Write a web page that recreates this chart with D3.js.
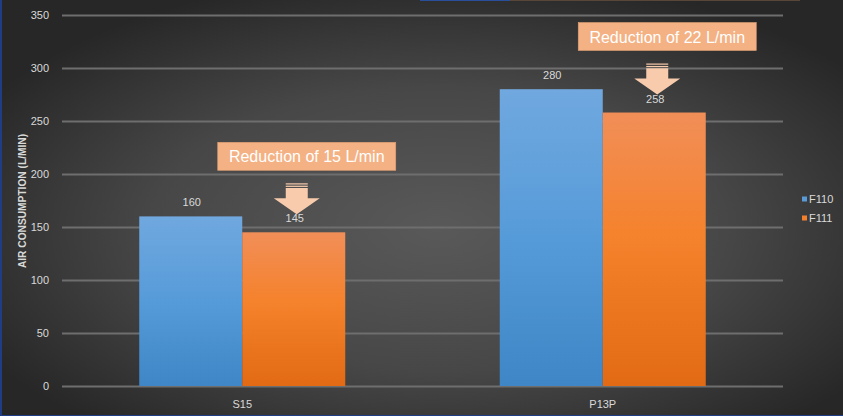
<!DOCTYPE html>
<html><head><meta charset="utf-8">
<script src="https://cdn.jsdelivr.net/npm/d3@7"></script>
<style>html,body{margin:0;padding:0;background:#2a2a2a;overflow:hidden}svg{display:block}</style>
</head><body>
<script>
const categories = ["S15", "P13P"];
const seriesNames = ["F110", "F111"];
const F110 = [160, 280];
const F111 = [145, 258];
const yTicks = [0, 50, 100, 150, 200, 250, 300, 350];
const annotations = ["Reduction of 15 L/min", "Reduction of 22 L/min"];
const yTitle = "AIR CONSUMPTION (L/MIN)";

const W = 843, H = 416;
const svg = d3.select("body").append("svg").attr("width", W).attr("height", H);
const defs = svg.append("defs");

const bg = defs.append("radialGradient").attr("id", "bg")
  .attr("cx", "0.52").attr("cy", "0.55").attr("r", "0.62");
bg.append("stop").attr("offset", "0").attr("stop-color", "#595959");
bg.append("stop").attr("offset", "0.55").attr("stop-color", "#474747");
bg.append("stop").attr("offset", "1").attr("stop-color", "#272727");

function grad(id, stops) {
  const g = defs.append("linearGradient").attr("id", id).attr("x1", 0).attr("y1", 0).attr("x2", 0).attr("y2", 1);
  stops.forEach(s => g.append("stop").attr("offset", s[0]).attr("stop-color", s[1]));
}
grad("gBlue", [[0, "#70a8df"], [0.5, "#569bd9"], [1, "#3e86c6"]]);
grad("gOrange", [[0, "#f18e58"], [0.45, "#f5822c"], [1, "#e26a14"]]);

svg.append("rect").attr("width", W).attr("height", H).attr("fill", "url(#bg)");
// thin frame edges
svg.append("rect").attr("x", 0).attr("y", 0).attr("width", 2).attr("height", H).attr("fill", "#1f3c86");
svg.append("rect").attr("x", 0).attr("y", H - 1).attr("width", W).attr("height", 1).attr("fill", "#1f3c86");
svg.append("rect").attr("x", 420).attr("y", 0).attr("width", 90).attr("height", 1).attr("fill", "#2a4f9a");
svg.append("rect").attr("x", 510).attr("y", 0).attr("width", 290).attr("height", 1).attr("fill", "#5a4636");

const x0 = 62, x1 = 783;
const x = d3.scaleBand().domain(categories).range([x0, x1]).paddingInner(0.4286).paddingOuter(0.2143);
const xs = d3.scaleBand().domain(seriesNames).range([0, x.bandwidth()]).padding(0);
const y = d3.scaleLinear().domain([0, 350]).range([386, 15]);

const font = "'Liberation Sans', Arial, sans-serif";

// gridlines
const yAxis = d3.axisLeft(y).tickValues(yTicks).tickSize(-(x1 - x0)).tickPadding(13);
const ga = svg.append("g").attr("transform", `translate(${x0},0)`).call(yAxis);
ga.select(".domain").remove();
ga.selectAll(".tick line").attr("stroke", "#6e6e6e").attr("stroke-width", 2);
ga.selectAll(".tick text").attr("fill", "#d9d9d9").style("font-family", font).style("font-size", "11px");

// bars
const data = categories.map((c, i) => ({ c, vals: [F110[i], F111[i]] }));
const fills = ["url(#gBlue)", "url(#gOrange)"];
const groups = svg.append("g").selectAll("g").data(data).join("g")
  .attr("transform", d => `translate(${x(d.c)},0)`);
groups.selectAll("rect").data(d => d.vals.map((v, j) => ({ v, s: seriesNames[j], j }))).join("rect")
  .attr("x", d => xs(d.s)).attr("width", xs.bandwidth())
  .attr("y", d => y(d.v)).attr("height", d => y(0) - y(d.v))
  .attr("fill", d => fills[d.j]);
groups.selectAll("text").data(d => d.vals.map((v, j) => ({ v, s: seriesNames[j] }))).join("text")
  .attr("x", d => xs(d.s) + xs.bandwidth() / 2 + 1)
  .attr("y", d => y(d.v) - 10)
  .attr("text-anchor", "middle").attr("fill", "#d9d9d9")
  .style("font-family", font).style("font-size", "11px")
  .text(d => d.v);

// x axis labels
const xAxis = d3.axisBottom(x).tickSize(0).tickPadding(14);
const gx = svg.append("g").attr("transform", `translate(0,${y(0)})`).call(xAxis);
gx.select(".domain").remove();
gx.selectAll(".tick text").attr("fill", "#d9d9d9").style("font-family", font).style("font-size", "11px");

// y title
svg.append("text").attr("transform", `translate(26,${201}) rotate(-90)`)
  .attr("text-anchor", "middle").attr("fill", "#d9d9d9")
  .style("font-family", font).style("font-size", "10.2px").style("font-weight", "bold")
  .text(yTitle);

// annotations (box + arrow) placed relative to F111 bars
categories.forEach((c, i) => {
  const bx = x(c) + xs("F111") + xs.bandwidth() / 2;  // center of F111 bar
  const tipY = y(F111[i]) - 18;
  const cx = bx + 3;
  const arrowTop = tipY - 31;
  const boxBottom = arrowTop - 13;
  const bw = 178, bh = 28;
  const boxX = bx - 76;
  svg.append("rect").attr("x", boxX).attr("y", boxBottom - bh).attr("width", bw).attr("height", bh)
    .attr("fill", "#f4b183").attr("stroke", "#e0a074").attr("stroke-width", 0.6);
  svg.append("text").attr("x", boxX + bw / 2).attr("y", boxBottom - bh / 2 + 6)
    .attr("text-anchor", "middle").attr("fill", "#ffffff")
    .style("font-family", font).style("font-size", "16px").text(annotations[i]);
  // arrow
  const g = svg.append("g").attr("fill", "#f8cbad");
  const sw = 11, hw = 23;
  g.append("rect").attr("x", cx - sw).attr("y", arrowTop).attr("width", 2 * sw).attr("height", 1.2);
  g.append("rect").attr("x", cx - sw).attr("y", arrowTop + 2.4).attr("width", 2 * sw).attr("height", 1.2);
  const sTop = arrowTop + 4.8, hTop = arrowTop + 15;
  g.append("path").attr("d",
    `M${cx - sw},${sTop} L${cx + sw},${sTop} L${cx + sw},${hTop} L${cx + hw},${hTop} L${cx},${tipY} L${cx - hw},${hTop} L${cx - sw},${hTop} Z`);
});

// legend
const lg = svg.append("g").attr("transform", "translate(802,0)");
seriesNames.forEach((s, i) => {
  const yy = 199 + i * 19;
  lg.append("rect").attr("x", 0).attr("y", yy - 2.5).attr("width", 5).attr("height", 5)
    .attr("fill", i === 0 ? "#5b9bd5" : "#f47f2a");
  lg.append("text").attr("x", 7).attr("y", yy + 4).attr("fill", "#d9d9d9")
    .style("font-family", font).style("font-size", "11px").text(s);
});
</script>
</body></html>
